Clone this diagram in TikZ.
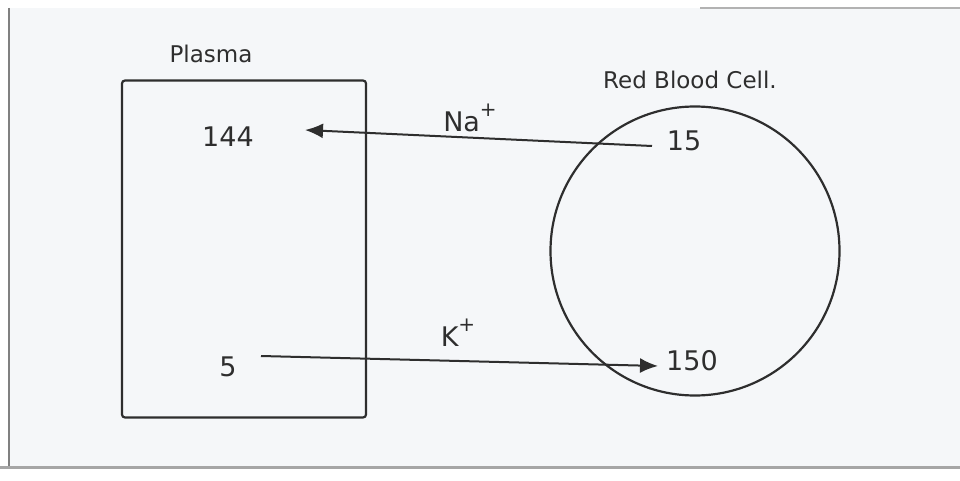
\documentclass[tikz,border=0pt]{standalone}
\usepackage{fontspec}
\setmainfont{DejaVu Sans}
\usetikzlibrary{arrows.meta}
\definecolor{paper}{HTML}{F5F7F9}
\definecolor{ink}{HTML}{2E2E2E}
\newcommand{\ionsup}[1]{\raisebox{0.55em}{\fontsize{20}{22}\selectfont #1}}
\begin{document}
\begin{tikzpicture}[x=1pt,y=-1pt,
  hand/.style={text=ink,font=\fontsize{27}{30}\selectfont},
  lbl/.style={text=ink,font=\fontsize{23}{26}\selectfont},
  wire/.style={draw=ink,line width=2.2pt},
  flow/.style={draw=ink,line width=2pt,-{Latex[length=18pt,width=15pt]}}]
\useasboundingbox (0,0) rectangle (960,481);
\fill[white] (0,0) rectangle (960,481);
\fill[paper] (10,8) rectangle (960,466);
\draw[gray,line width=2pt] (9,8) -- (9,466);
\draw[gray!70,line width=3pt] (0,467) -- (960,467);
\draw[gray!60,line width=1.5pt] (700,8) -- (960,8);
% plasma box
\node[wire,rectangle,rounded corners=3pt,minimum width=244pt,minimum height=337pt] (plasma) at (244,249) {};
\node[lbl] (plasmalbl) at (211,54) {Plasma};
% cell
\node[wire,circle,minimum size=289pt,inner sep=0pt] (cell) at (695,251) {};
\node[lbl] (celllbl) at (690,80) {Red Blood Cell.};
% values
\node[hand] (p144) at (228,137) {144};
\node[hand] (p5) at (228,367) {5};
\node[hand] (c15) at (684,141) {15};
\node[hand] (c150) at (692,361) {150};
% ions
\node[hand] (na) at (470,118) {Na\ionsup{+}};
\node[hand] (k) at (458,333) {K\ionsup{+}};
% arrows
\coordinate (naS) at (652,146);
\coordinate (naE) at (305,130);
\coordinate (kS) at (261,356);
\coordinate (kE) at (658,366);
\draw[flow] (naS) -- (naE);
\draw[flow] (kS) -- (kE);
\end{tikzpicture}
\end{document}
